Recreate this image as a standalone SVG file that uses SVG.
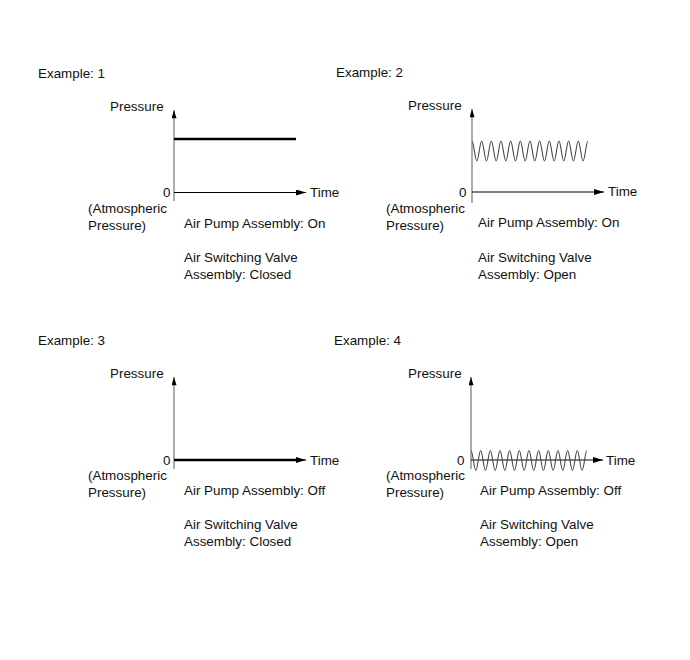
<svg xmlns="http://www.w3.org/2000/svg" width="690" height="660" viewBox="0 0 690 660">
<defs>
<marker id="arr" viewBox="0 0 10 6" refX="10" refY="3" markerWidth="10" markerHeight="6" markerUnits="userSpaceOnUse" orient="auto">
<path d="M0,0 L10,3 L0,6 Z" fill="#000"/>
</marker>
<marker id="arrv" viewBox="0 0 6 10" refX="3" refY="0" markerWidth="5" markerHeight="9" markerUnits="userSpaceOnUse" orient="0">
<path d="M3,0 L6,10 L0,10 Z" fill="#000"/>
</marker>
<path id="wave" d="M0,0 c1.74,0 3.09,20 4.83,20 s3.09,-20 4.83,-20 s3.09,20 4.83,20 s3.09,-20 4.83,-20 s3.09,20 4.83,20 s3.09,-20 4.83,-20 s3.09,20 4.83,20 s3.09,-20 4.83,-20 s3.09,20 4.83,20 s3.09,-20 4.83,-20 s3.09,20 4.83,20 s3.09,-20 4.83,-20 s3.09,20 4.83,20 s3.09,-20 4.83,-20 s3.09,20 4.83,20 s3.09,-20 4.83,-20 s3.09,20 4.83,20 s3.09,-20 4.83,-20 s3.09,20 4.83,20 s3.09,-20 4.83,-20 s3.09,20 4.83,20 s3.09,-20 4.83,-20 s3.09,20 4.83,20 s3.09,-20 4.83,-20"/>
</defs>
<style>
text{font-family:"Liberation Sans",Arial,sans-serif;font-size:13.4px;fill:#111}
.yax{stroke:#808080;stroke-width:1.3;fill:none}
.xax{stroke:#000;stroke-width:1;fill:none}
.thick{stroke:#000;stroke-width:2.6;fill:none}
.wv{stroke:#444;stroke-width:1.1;fill:none}
</style>
<rect width="690" height="660" fill="#fff"/>

<g id="example1">
<text x="38" y="78">Example: 1</text>
<text x="110" y="111">Pressure</text>
<text x="163" y="197">0</text>
<text x="88" y="213">(Atmospheric</text>
<text x="88" y="230">Pressure)</text>
<text x="310" y="197">Time</text>
<text x="184" y="228">Air Pump Assembly: On</text>
<text x="184" y="262">Air Switching Valve</text>
<text x="184" y="279">Assembly: Closed</text>
</g>

<g id="example2">
<text x="336" y="77">Example: 2</text>
<text x="408" y="110">Pressure</text>
<text x="459" y="197">0</text>
<text x="386" y="213">(Atmospheric</text>
<text x="386" y="230">Pressure)</text>
<text x="608" y="196">Time</text>
<text x="478" y="227">Air Pump Assembly: On</text>
<text x="478" y="262">Air Switching Valve</text>
<text x="478" y="279">Assembly: Open</text>
</g>

<g id="example3">
<text x="38" y="345">Example: 3</text>
<text x="110" y="378">Pressure</text>
<text x="163" y="465">0</text>
<text x="88" y="480">(Atmospheric</text>
<text x="88" y="497">Pressure)</text>
<text x="310" y="465">Time</text>
<text x="184" y="495">Air Pump Assembly: Off</text>
<text x="184" y="529">Air Switching Valve</text>
<text x="184" y="546">Assembly: Closed</text>
</g>

<g id="example4">
<text x="334" y="345">Example: 4</text>
<text x="408" y="378">Pressure</text>
<text x="457" y="465">0</text>
<text x="386" y="480">(Atmospheric</text>
<text x="386" y="497">Pressure)</text>
<text x="606" y="465">Time</text>
<text x="480" y="495">Air Pump Assembly: Off</text>
<text x="480" y="529">Air Switching Valve</text>
<text x="480" y="546">Assembly: Open</text>
</g>

<g id="connectors">
<line class="yax" x1="174" y1="201" x2="174" y2="110" marker-end="url(#arrv)"/>
<line class="xax" x1="174" y1="192.5" x2="306" y2="192.5" marker-end="url(#arr)"/>
<line class="thick" x1="174" y1="139" x2="296" y2="139"/>
<line class="yax" x1="472" y1="203" x2="472" y2="109" marker-end="url(#arrv)"/>
<line class="xax" x1="472" y1="192" x2="604" y2="192" marker-end="url(#arr)"/>
<use class="wv" href="#wave" x="472" y="141"/>
<line class="yax" x1="174" y1="469" x2="174" y2="377" marker-end="url(#arrv)"/>
<line class="xax" x1="174" y1="460" x2="306" y2="460" marker-end="url(#arr)"/>
<line class="thick" x1="174" y1="460" x2="300" y2="460"/>
<line class="yax" x1="471" y1="469" x2="471" y2="377" marker-end="url(#arrv)"/>
<line class="xax" x1="471" y1="460" x2="603" y2="460" marker-end="url(#arr)"/>
<use class="wv" href="#wave" x="471" y="450.5"/>
</g>
</svg>
